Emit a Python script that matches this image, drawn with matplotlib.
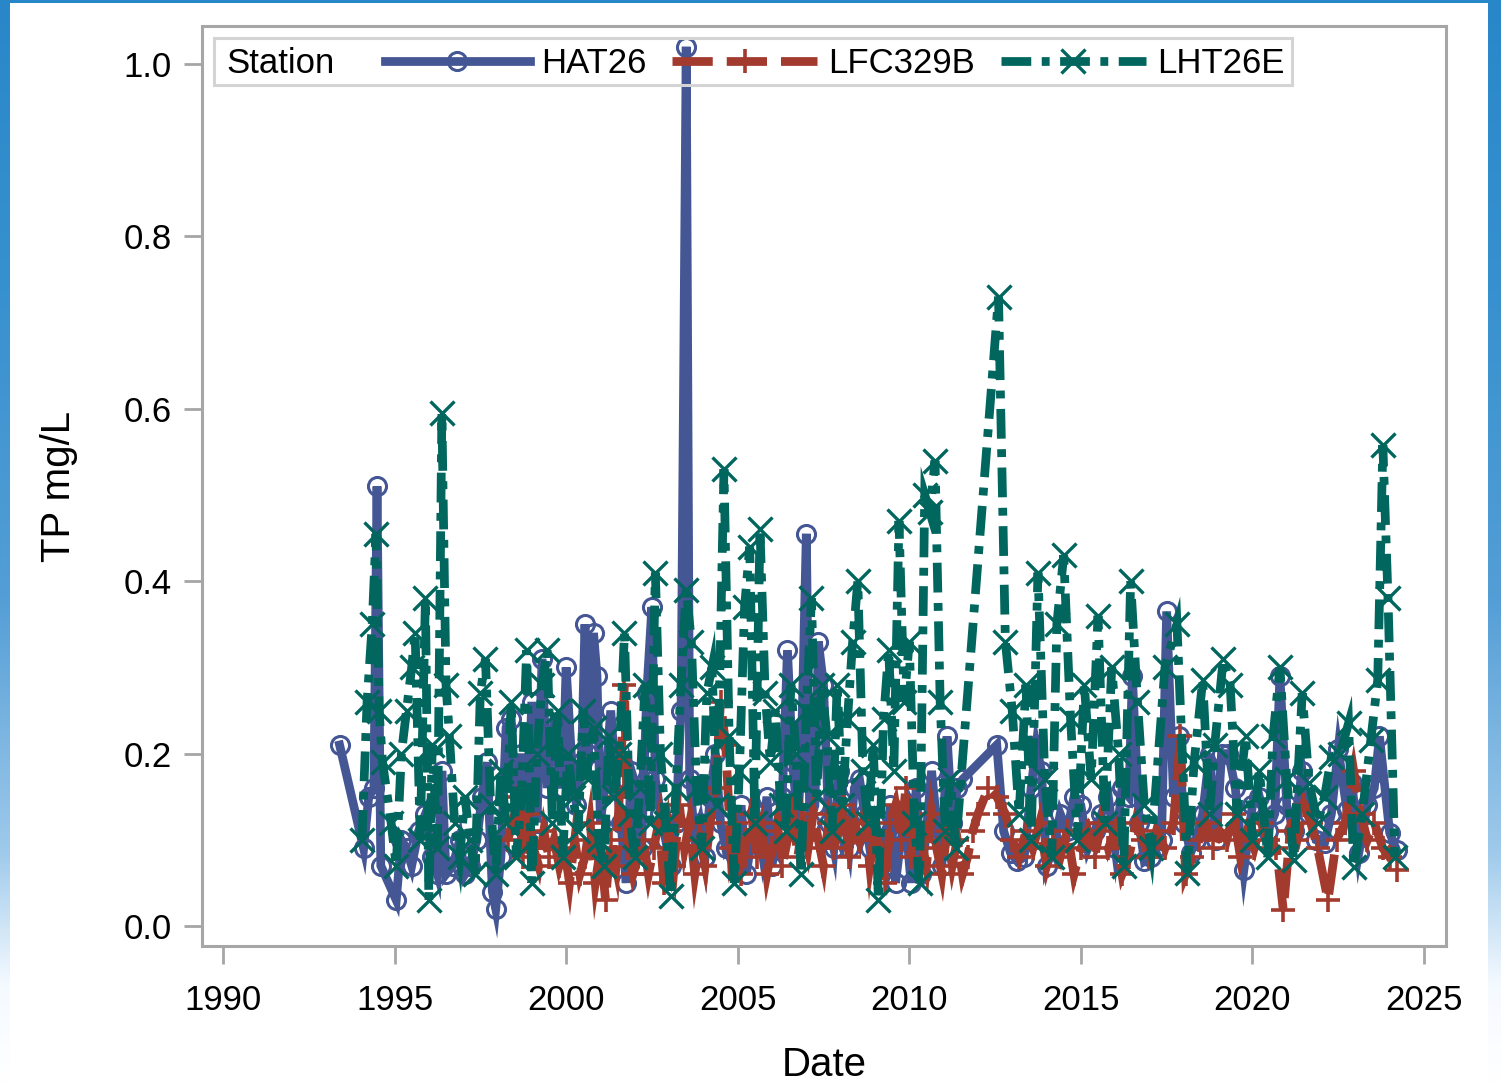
import matplotlib
matplotlib.use("Agg")
import matplotlib.pyplot as plt
import numpy as np
from matplotlib.lines import Line2D
from matplotlib.patches import Rectangle

# HAT26 (decimal year, TP mg/L)
hat_years = [1993.4, 1994.1, 1994.25, 1994.4, 1994.49, 1994.6, 1995.05, 1995.2, 1995.35, 1995.5,
             1995.7, 1995.9, 1996.1, 1996.25, 1996.38, 1996.5, 1996.7, 1996.9, 1997.05, 1997.2,
             1997.4, 1997.55, 1997.7, 1997.85, 1997.95, 1998.1, 1998.25, 1998.4, 1998.55, 1998.7,
             1998.85, 1999.0, 1999.15, 1999.3, 1999.45, 1999.6, 1999.75, 1999.9, 2000.0, 2000.15,
             2000.3, 2000.45, 2000.55, 2000.65, 2000.8, 2000.9, 2001.0, 2001.15, 2001.3, 2001.45,
             2001.6, 2001.75, 2001.9, 2002.05, 2002.2, 2002.35, 2002.5, 2002.6, 2002.75, 2002.9,
             2003.05, 2003.2, 2003.35, 2003.5, 2003.6, 2003.75, 2003.9, 2004.05, 2004.2, 2004.35,
             2004.5, 2004.65, 2004.8, 2004.95, 2005.1, 2005.25, 2005.4, 2005.55, 2005.7, 2005.85,
             2006.0, 2006.15, 2006.3, 2006.45, 2006.6, 2006.75, 2006.85, 2007.0, 2007.1, 2007.25,
             2007.35, 2007.5, 2007.65, 2007.8, 2007.95, 2008.1, 2008.25, 2008.4, 2008.55, 2008.7,
             2008.85, 2009.0, 2009.15, 2009.3, 2009.45, 2009.6, 2009.75, 2009.9, 2010.05, 2010.2,
             2010.35, 2010.5, 2010.65, 2010.8, 2010.95, 2011.1, 2011.25, 2011.4, 2011.55, 2012.55,
             2012.75, 2012.95, 2013.15, 2013.35, 2013.55, 2013.7, 2013.85, 2014.0, 2014.2, 2014.4,
             2014.6, 2014.8, 2015.0, 2015.2, 2015.4, 2015.6, 2015.8, 2016.0, 2016.2, 2016.4,
             2016.5, 2016.7, 2016.85, 2017.05, 2017.2, 2017.35, 2017.5, 2017.7, 2017.85, 2018.0,
             2018.2, 2018.35, 2018.55, 2018.75, 2018.95, 2019.1, 2019.3, 2019.5, 2019.75, 2020.0,
             2020.2, 2020.45, 2020.65, 2020.8, 2021.0, 2021.2, 2021.45, 2021.65, 2021.85, 2022.1,
             2022.3, 2022.5, 2022.75, 2022.9, 2023.1, 2023.35, 2023.55, 2023.7, 2024.0, 2024.2]
hat_tp = [0.21, 0.09, 0.15, 0.16, 0.51, 0.07, 0.03, 0.10, 0.09, 0.07,
          0.11, 0.13, 0.08, 0.06, 0.18, 0.06, 0.07, 0.10, 0.06, 0.07,
          0.10, 0.15, 0.19, 0.04, 0.02, 0.08, 0.23, 0.24, 0.13, 0.20,
          0.10, 0.26, 0.12, 0.31, 0.16, 0.22, 0.19, 0.16, 0.30, 0.20,
          0.14, 0.19, 0.35, 0.20, 0.34, 0.29, 0.12, 0.17, 0.25, 0.17,
          0.12, 0.05, 0.18, 0.16, 0.09, 0.27, 0.37, 0.17, 0.13, 0.10,
          0.07, 0.12, 0.25, 1.02, 0.17, 0.10, 0.12, 0.08, 0.15, 0.20,
          0.12, 0.09, 0.10, 0.08, 0.14, 0.06, 0.10, 0.13, 0.09, 0.15,
          0.07, 0.11, 0.15, 0.32, 0.19, 0.12, 0.19, 0.455, 0.12, 0.14,
          0.33, 0.28, 0.12, 0.09, 0.18, 0.12, 0.09, 0.16, 0.17, 0.13,
          0.09, 0.12, 0.10, 0.07, 0.14, 0.05, 0.10, 0.12, 0.05, 0.16,
          0.06, 0.11, 0.18, 0.12, 0.07, 0.22, 0.12, 0.16, 0.17, 0.21,
          0.11, 0.085, 0.075, 0.08, 0.16, 0.21, 0.18, 0.07, 0.09, 0.13,
          0.11, 0.15, 0.14, 0.09, 0.11, 0.13, 0.15, 0.09, 0.16, 0.15,
          0.29, 0.12, 0.075, 0.08, 0.09, 0.10, 0.365, 0.15, 0.22, 0.12,
          0.085, 0.10, 0.13, 0.20, 0.10, 0.20, 0.20, 0.16, 0.065, 0.14,
          0.15, 0.11, 0.13, 0.29, 0.14, 0.11, 0.18, 0.13, 0.10, 0.096,
          0.13, 0.205, 0.135, 0.166, 0.085, 0.14, 0.16, 0.22, 0.108, 0.088]

# LFC329B
lfc_years = [1998.3, 1998.45, 1998.6, 1998.75, 1998.9, 1999.05, 1999.2, 1999.35, 1999.5, 1999.65,
             1999.8, 1999.95, 2000.1, 2000.25, 2000.4, 2000.55, 2000.7, 2000.85, 2001.0, 2001.15,
             2001.3, 2001.45, 2001.55, 2001.7, 2001.8, 2001.95, 2002.1, 2002.25, 2002.4, 2002.55,
             2002.7, 2002.85, 2003.0, 2003.15, 2003.3, 2003.45, 2003.6, 2003.75, 2003.9, 2004.05,
             2004.2, 2004.35, 2004.5, 2004.65, 2004.8, 2004.95, 2005.1, 2005.25, 2005.4, 2005.55,
             2005.7, 2005.85, 2006.0, 2006.15, 2006.3, 2006.45, 2006.6, 2006.75, 2006.9, 2007.05,
             2007.2, 2007.35, 2007.5, 2007.65, 2007.8, 2007.95, 2008.1, 2008.25, 2008.4, 2008.55,
             2008.7, 2008.85, 2009.0, 2009.15, 2009.3, 2009.45, 2009.6, 2009.75, 2009.9, 2010.05,
             2010.2, 2010.35, 2010.5, 2010.65, 2010.8, 2010.95, 2011.1, 2011.25, 2011.4, 2011.55,
             2011.7, 2011.85, 2012.0, 2012.3, 2012.55, 2012.8, 2013.0, 2013.2, 2013.4, 2013.6,
             2013.8, 2014.0, 2014.2, 2014.4, 2014.6, 2014.8, 2015.0, 2015.2, 2015.4, 2015.6,
             2015.8, 2016.0, 2016.2, 2016.4, 2016.6, 2016.8, 2017.0, 2017.2, 2017.45, 2017.7,
             2017.9, 2018.05, 2018.25, 2018.45, 2018.65, 2018.85, 2019.05, 2019.25, 2019.45, 2019.65,
             2019.85, 2020.05, 2020.25, 2020.45, 2020.7, 2020.9, 2021.1, 2021.3, 2021.5, 2021.7,
             2021.9, 2022.2, 2022.45, 2022.7, 2022.95, 2023.15, 2023.35, 2023.55, 2023.8, 2024.0,
             2024.2]
lfc_tp = [0.10, 0.12, 0.15, 0.08, 0.13, 0.09, 0.07, 0.11, 0.08, 0.10,
          0.07, 0.09, 0.05, 0.10, 0.06, 0.08, 0.12, 0.05, 0.09, 0.03,
          0.10, 0.07, 0.15, 0.28, 0.09, 0.06, 0.08, 0.10, 0.06, 0.09,
          0.12, 0.05, 0.11, 0.07, 0.14, 0.09, 0.12, 0.06, 0.10, 0.07,
          0.12, 0.16, 0.26, 0.21, 0.09, 0.12, 0.06, 0.10, 0.13, 0.08,
          0.11, 0.06, 0.09, 0.12, 0.07, 0.10, 0.14, 0.08, 0.12, 0.09,
          0.13, 0.10, 0.07, 0.12, 0.09, 0.11, 0.14, 0.08, 0.12, 0.10,
          0.13, 0.07, 0.11, 0.09, 0.05, 0.12, 0.14, 0.10, 0.16, 0.08,
          0.12, 0.10, 0.07, 0.13, 0.09, 0.06, 0.11, 0.07, 0.10, 0.06,
          0.08, 0.11, 0.13, 0.16, 0.15, 0.13, 0.10, 0.08, 0.11, 0.09,
          0.12, 0.07, 0.10, 0.08, 0.11, 0.06, 0.09, 0.11, 0.08, 0.12,
          0.09, 0.11, 0.06, 0.08, 0.12, 0.10, 0.08, 0.11, 0.09, 0.12,
          0.22, 0.06, 0.08, 0.10, 0.12, 0.09, 0.11, 0.10, 0.13, 0.08,
          0.11, 0.09, 0.12, 0.10, 0.09, 0.018, 0.11, 0.10, 0.14, 0.12,
          0.09, 0.03, 0.10, 0.12, 0.18, 0.13, 0.10, 0.12, 0.09, 0.08,
          0.065]

# LHT26E
lht_years = [1994.05, 1994.2, 1994.35, 1994.46, 1994.55, 1994.65, 1994.9, 1995.05, 1995.2, 1995.35,
             1995.5, 1995.6, 1995.75, 1995.9, 1996.0, 1996.1, 1996.25, 1996.38, 1996.5, 1996.6,
             1996.75, 1996.9, 1997.05, 1997.2, 1997.35, 1997.5, 1997.65, 1997.8, 1997.95, 1998.1,
             1998.25, 1998.4, 1998.55, 1998.7, 1998.85, 1999.0, 1999.15, 1999.3, 1999.45, 1999.6,
             1999.75, 1999.9, 2000.05, 2000.2, 2000.35, 2000.5, 2000.65, 2000.8, 2000.95, 2001.1,
             2001.25, 2001.4, 2001.55, 2001.7, 2001.85, 2002.0, 2002.15, 2002.3, 2002.45, 2002.6,
             2002.75, 2002.9, 2003.05, 2003.2, 2003.35, 2003.5, 2003.65, 2003.8, 2003.95, 2004.1,
             2004.25, 2004.4, 2004.6, 2004.75, 2004.9, 2005.05, 2005.2, 2005.35, 2005.5, 2005.65,
             2005.8, 2005.95, 2006.1, 2006.25, 2006.4, 2006.55, 2006.7, 2006.85, 2007.0, 2007.15,
             2007.3, 2007.45, 2007.6, 2007.75, 2007.9, 2008.05, 2008.2, 2008.35, 2008.5, 2008.65,
             2008.8, 2008.95, 2009.1, 2009.25, 2009.4, 2009.55, 2009.7, 2009.85, 2010.0, 2010.15,
             2010.3, 2010.45, 2010.6, 2010.75, 2010.9, 2011.05, 2011.2, 2011.35, 2012.6, 2012.8,
             2013.0, 2013.2, 2013.4, 2013.55, 2013.75, 2013.95, 2014.15, 2014.3, 2014.5, 2014.7,
             2014.9, 2015.1, 2015.3, 2015.5, 2015.7, 2015.9, 2016.1, 2016.25, 2016.45, 2016.65,
             2016.85, 2017.05, 2017.45, 2017.8, 2018.1, 2018.3, 2018.55, 2018.75, 2018.9, 2019.15,
             2019.35, 2019.55, 2019.8, 2020.0, 2020.2, 2020.45, 2020.6, 2020.8, 2021.0, 2021.2,
             2021.45, 2021.65, 2021.9, 2022.1, 2022.3, 2022.55, 2022.8, 2022.95, 2023.2, 2023.45,
             2023.65, 2023.8, 2023.95, 2024.15]
lht_tp = [0.10, 0.26, 0.35, 0.455, 0.25, 0.19, 0.12, 0.07, 0.20, 0.25,
          0.30, 0.34, 0.10, 0.38, 0.03, 0.21, 0.09, 0.595, 0.28, 0.22,
          0.12, 0.08, 0.15, 0.10, 0.06, 0.27, 0.31, 0.14, 0.06, 0.18,
          0.12, 0.26, 0.08, 0.15, 0.32, 0.05, 0.20, 0.28, 0.32, 0.12,
          0.25, 0.08, 0.20, 0.15, 0.11, 0.25, 0.17, 0.23, 0.10, 0.07,
          0.22, 0.15, 0.20, 0.34, 0.13, 0.08, 0.16, 0.28, 0.12, 0.41,
          0.20, 0.12, 0.035, 0.16, 0.28, 0.39, 0.33, 0.16, 0.09, 0.27,
          0.30, 0.14, 0.53, 0.22, 0.05, 0.18, 0.37, 0.44, 0.12, 0.46,
          0.27, 0.19, 0.25, 0.14, 0.11, 0.28, 0.20, 0.06, 0.25, 0.38,
          0.15, 0.28, 0.22, 0.11, 0.28, 0.14, 0.24, 0.33, 0.40, 0.18,
          0.12, 0.21, 0.03, 0.24, 0.32, 0.18, 0.47, 0.26, 0.33, 0.12,
          0.05, 0.50, 0.48, 0.54, 0.26, 0.11, 0.17, 0.09, 0.73, 0.33,
          0.25, 0.13, 0.28, 0.10, 0.41, 0.17, 0.08, 0.35, 0.43, 0.24,
          0.10, 0.28, 0.17, 0.36, 0.12, 0.30, 0.20, 0.07, 0.40, 0.26,
          0.14, 0.09, 0.30, 0.35, 0.062, 0.19, 0.285, 0.13, 0.21, 0.31,
          0.28, 0.13, 0.22, 0.10, 0.18, 0.08, 0.22, 0.30, 0.17, 0.077,
          0.27, 0.166, 0.12, 0.15, 0.196, 0.20, 0.235, 0.068, 0.13, 0.216,
          0.285, 0.558, 0.38, 0.08]

stations = ['HAT26', 'LFC329B', 'LHT26E']
x_ticks = [1990, 1995, 2000, 2005, 2010, 2015, 2020, 2025]
y_ticks = [0.0, 0.2, 0.4, 0.6, 0.8, 1.0]

plt.rcParams['font.family'] = ['Liberation Sans', 'DejaVu Sans']

W, H = 1501, 1082
fig = plt.figure(figsize=(W / 100, H / 100), dpi=100)

# blue gradient backdrop with white panel on top
bg = fig.add_axes([0, 0, 1, 1], zorder=0)
bg.set_xlim(0, W)
bg.set_ylim(H, 0)
bg.axis('off')
stops_y = [0, 300, 600, 850, 985, H]
stops_c = [(0.16, 0.53, 0.79), (0.22, 0.57, 0.81), (0.33, 0.62, 0.84),
           (0.62, 0.79, 0.92), (0.96, 0.98, 1.0), (1.0, 1.0, 1.0)]
yy = np.arange(H)
grad = np.stack([np.interp(yy, stops_y, [c[i] for c in stops_c]) for i in range(3)], axis=-1)
bg.imshow(grad[:, None, :], extent=(0, W, H, 0), aspect='auto', interpolation='bilinear')
bg.add_patch(Rectangle((10, 3), 1478, H, facecolor='white', edgecolor='none'))

ax = fig.add_axes([202 / W, 136 / H, 1244 / W, 920 / H], zorder=1)

lw = 6.3
styles = [
    dict(color='#445694', linestyle='-', marker='o', markersize=13,
         markerfacecolor='none', markeredgewidth=2.2),
    dict(color='#A23A2E', linestyle=(0, (4.6, 1.6)), marker='+', markersize=17,
         markeredgewidth=2.6),
    dict(color='#01665E', linestyle=(0, (3.4, 1.2, 0.9, 1.2)), marker='x', markersize=17,
         markeredgewidth=2.4),
]
series = [(hat_years, hat_tp), (lfc_years, lfc_tp), (lht_years, lht_tp)]

handles = []
for (xs, ys), st, name in zip(series, styles, stations):
    ax.plot(xs, ys, linewidth=lw, solid_joinstyle='miter', dash_joinstyle='miter', **st)
    handles.append(Line2D([], [], linewidth=lw, dash_capstyle='butt', **st))

ax.set_xlim(1989.39, 2025.64)
ax.set_ylim(-0.0232, 1.0441)
ax.set_xticks(x_ticks)
ax.set_yticks(y_ticks)
ax.set_yticklabels([f'{v:.1f}' for v in y_ticks])
ax.tick_params(axis='both', direction='out', length=13, width=2, color='#a6a6a6',
               labelsize=25, labelcolor='black')
ax.tick_params(axis='x', pad=14)
ax.tick_params(axis='y', pad=9)
for sp in ax.spines.values():
    sp.set_color('#a6a6a6')
    sp.set_linewidth(2.2)

ax.set_xlabel('Date', fontsize=29)
ax.set_ylabel('TP mg/L', fontsize=29)
ax.xaxis.set_label_coords(0.5, -0.109)
ax.yaxis.set_label_coords(-0.1, 0.5)

# legend box (no fill) with the "Station" title sitting inline
ax.add_patch(Rectangle((0.0096, 0.936), 0.8666, 0.051, transform=ax.transAxes,
                       facecolor='none', edgecolor='#d4d4d4', linewidth=2.2, zorder=5))
ax.text(0.0193, 0.9595, 'Station', transform=ax.transAxes, fontsize=25,
        va='center', ha='left', zorder=6)
leg = ax.legend(handles, stations, ncol=3, loc='center left',
                bbox_to_anchor=(0.1471, 0.9595), frameon=False, fontsize=25,
                handlelength=4.17, handletextpad=0.32, columnspacing=0.75,
                borderpad=0, borderaxespad=0, numpoints=1)
leg.set_zorder(7)

fig.savefig('out.png', dpi=100, facecolor='white')
